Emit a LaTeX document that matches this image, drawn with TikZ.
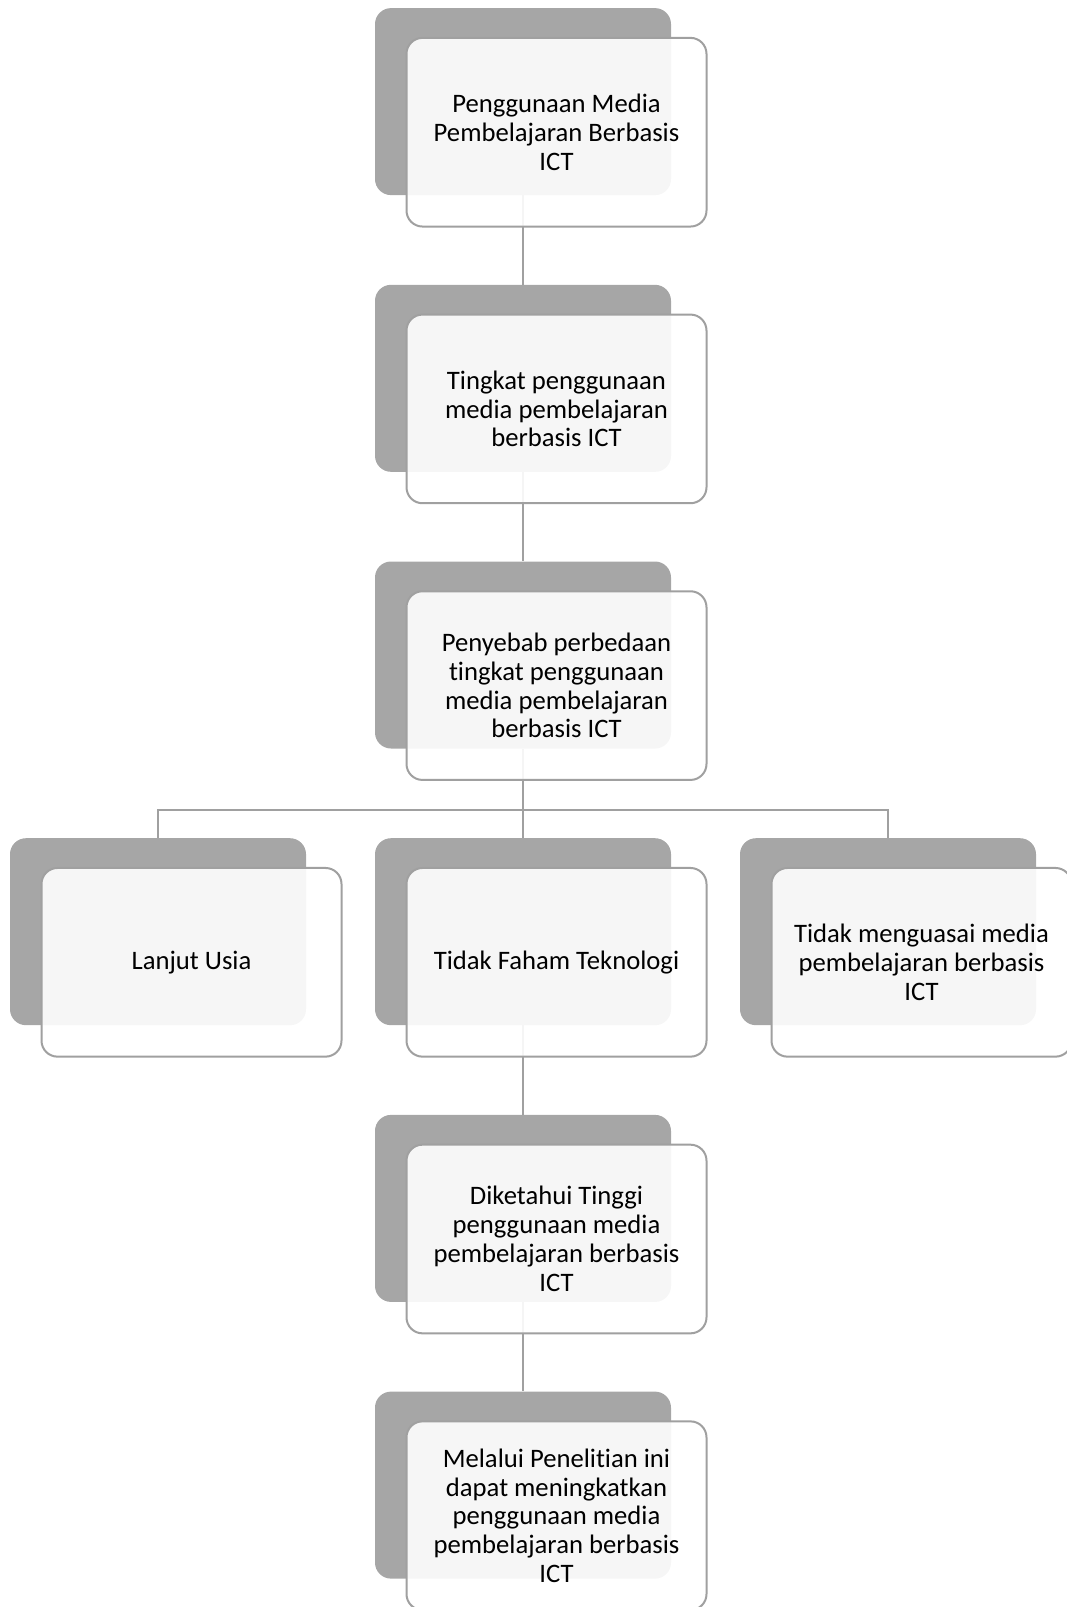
\documentclass[tikz,border=0pt]{standalone}
\usepackage{fontspec}
\setmainfont{Carlito}[Ligatures=NoCommon]
\usetikzlibrary{positioning}
\pgfdeclarelayer{bg}
\pgfsetlayers{bg,main}
\definecolor{darkfill}{HTML}{A6A6A6}
\definecolor{edgegray}{HTML}{A0A0A0}
\tikzset{
  backbox/.style={rectangle, rounded corners=12pt, fill=darkfill, draw=none,
    minimum width=222pt, minimum height=140.25pt, inner sep=0pt},
  frontbox/.style={rectangle, rounded corners=12pt, fill=white, fill opacity=0.9,
    text opacity=1, draw=edgegray, line width=1.5pt,
    minimum width=225pt, minimum height=141.5pt, inner sep=2pt,
    align=center, font=\fontsize{20pt}{21.6pt}\selectfont, text=black},
  link/.style={draw=edgegray, line width=1.5pt}
}
\begin{document}
\begin{tikzpicture}[x=0.75pt,y=-0.75pt]
\useasboundingbox (0,0) rectangle (1067,1607);
% back boxes
\node[backbox] (d1) at (523,101.6) {};
\node[backbox] (d2) at (523,378.3) {};
\node[backbox] (d3) at (523,655.0) {};
\node[backbox] (d4l) at (158,931.7) {};
\node[backbox] (d4m) at (523,931.7) {};
\node[backbox] (d4r) at (888,931.7) {};
\node[backbox] (d5) at (523,1208.4) {};
\node[backbox] (d6) at (523,1485.1) {};
% front boxes
\node[frontbox] (f1) at (556.5,132.2) {Penggunaan Media\\Pembelajaran Berbasis\\ICT};
\node[frontbox] (f2) at (556.5,408.9) {Tingkat penggunaan\\media pembelajaran\\berbasis ICT};
\node[frontbox] (f3) at (556.5,685.6) {Penyebab perbedaan\\tingkat penggunaan\\media pembelajaran\\berbasis ICT};
\node[frontbox] (f4l) at (191.5,962.3) {Lanjut Usia};
\node[frontbox] (f4m) at (556.5,962.3) {Tidak Faham Teknologi};
\node[frontbox] (f4r) at (921.5,962.3) {Tidak menguasai media\\pembelajaran berbasis\\ICT};
\node[frontbox] (f5) at (556.5,1239.0) {Diketahui Tinggi\\penggunaan media\\pembelajaran berbasis\\ICT};
\node[frontbox] (f6) at (556.5,1515.7) {Melalui Penelitian ini\\dapat meningkatkan\\penggunaan media\\pembelajaran berbasis\\ICT};
% connectors
\begin{pgfonlayer}{bg}
\draw[link] (d1.south) -- (d2.north);
\draw[link] (d2.south) -- (d3.north);
\coordinate (j) at (523,810);
\draw[link] (d3.south) -- (j);
\draw[link] (d4l.north) |- (j) -| (d4r.north);
\draw[link] (j) -- (d4m.north);
\draw[link] (d4m.south) -- (d5.north);
\draw[link] (d5.south) -- (d6.north);
\end{pgfonlayer}
\end{tikzpicture}
\end{document}
